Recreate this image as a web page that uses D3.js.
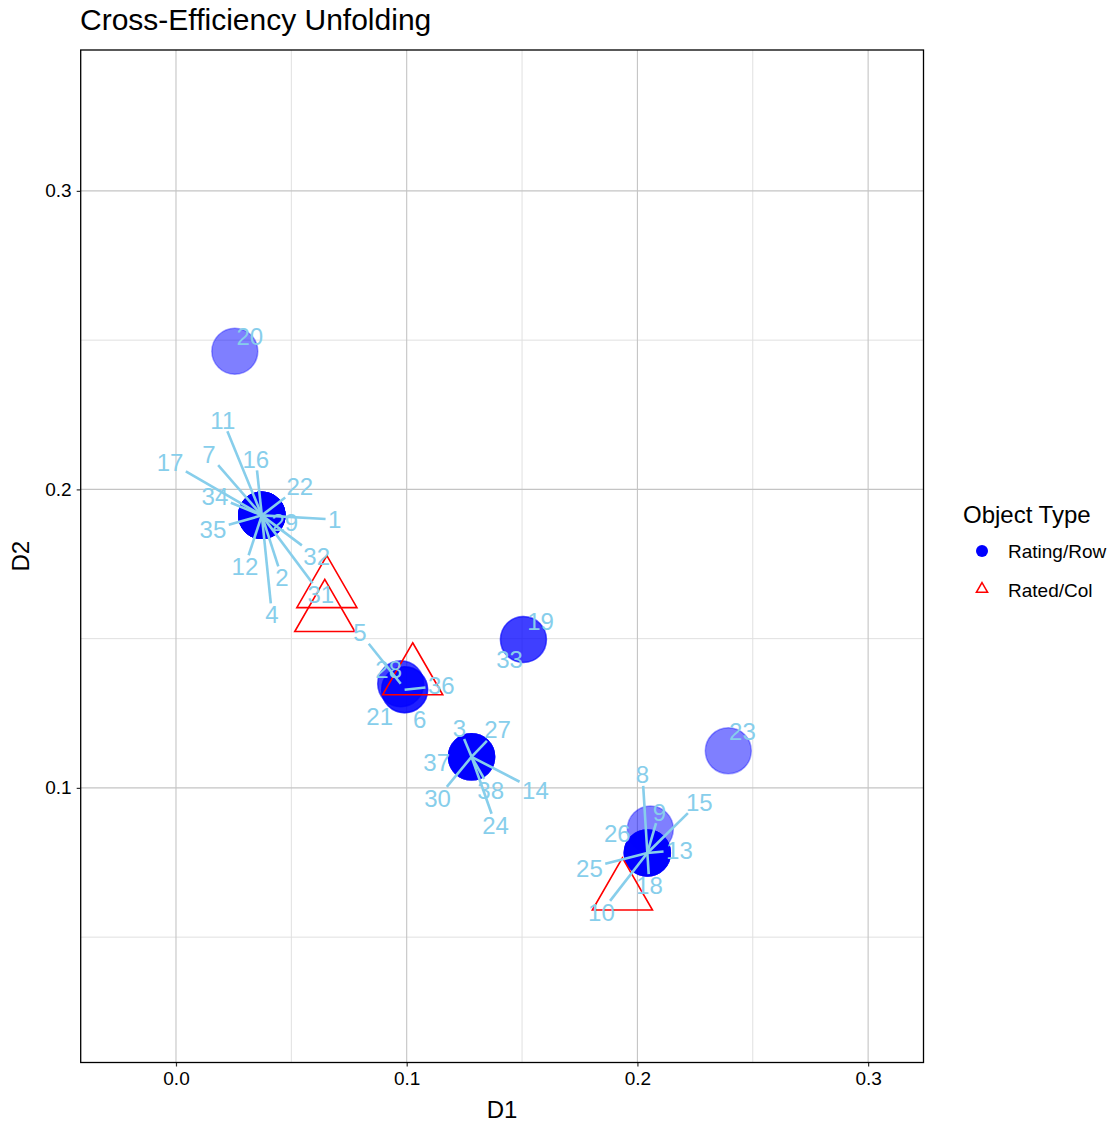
<!DOCTYPE html>
<html><head><meta charset="utf-8">
<script src="https://cdn.jsdelivr.net/npm/d3@7"></script>
<style>
body{margin:0;background:#fff}
text{font-family:"Liberation Sans",Arial,Helvetica,sans-serif}
</style>
</head><body>
<svg id="chart" width="1115" height="1126"></svg>
<script>
// ---------------- data ----------------
const dmuLabels = ["1","2","3","4","5","6","7","8","9","10","11","12","13","14","15","16","17","18","19","20",
  "21","22","23","24","25","26","27","28","29","30","31","32","33","34","35","36","37","38"];
// Rating/Row positions (D1, D2)
const dmuD1 = [0.0372,0.0372,0.1281,0.0372,0.0974,0.0991,0.0372,0.2043,0.2043,0.2043,
  0.0372,0.0372,0.2043,0.1281,0.2043,0.0372,0.0372,0.2043,0.1506,0.0255,
  0.0991,0.0372,0.2394,0.1281,0.2043,0.2056,0.1281,0.0974,0.0372,0.1281,
  0.0372,0.0372,0.1506,0.0372,0.0372,0.0991,0.1281,0.1281];
const dmuD2 = [0.1913,0.1913,0.1104,0.1913,0.1349,0.1329,0.1913,0.0782,0.0782,0.0782,
  0.1913,0.1913,0.0782,0.1104,0.0782,0.1913,0.1913,0.0782,0.1497,0.2463,
  0.1329,0.1913,0.1124,0.1104,0.0782,0.0862,0.1104,0.1349,0.1913,0.1104,
  0.1913,0.1913,0.1497,0.1913,0.1913,0.1329,0.1104,0.1104];
// repelled label positions (D1, D2)
const labelD1 = [0.0688,0.0459,0.1229,0.0416,0.0797,0.1056,0.0143,0.2022,0.2095,0.1844,
  0.0203,0.0299,0.2182,0.1558,0.2268,0.0346,-0.0026,0.2052,0.1580,0.0320,
  0.0883,0.0537,0.2455,0.1385,0.1792,0.1913,0.1394,0.0922,0.0472,0.1134,
  0.0628,0.0610,0.1446,0.0169,0.0160,0.1150,0.1130,0.1364];
const labelD2 = [0.1899,0.1705,0.1201,0.1581,0.1520,0.1228,0.2117,0.1044,0.0919,0.0584,
  0.2232,0.1742,0.0792,0.0993,0.0953,0.2101,0.2091,0.0674,0.1557,0.2513,
  0.1238,0.2010,0.1188,0.0876,0.0732,0.0849,0.1195,0.1396,0.1889,0.0966,
  0.1648,0.1775,0.1430,0.1977,0.1866,0.1342,0.1084,0.0993];
// whether the repelled label has a leader segment
const hasSegment = [1,1,1,1,1,0,1,1,1,1, 1,1,1,1,1,1,1,1,0,0,
  0,1,0,1,1,0,1,0,0,1, 1,1,0,1,1,1,0,1];
// Rated/Col positions
const ratedD1 = [0.0654,0.0645,0.1026,0.1935];
const ratedD2 = [0.1662,0.1582,0.1370,0.0649];

const xDomain = [-0.0413, 0.3240];
const yDomain = [0.0080, 0.3472];
const xTicks = [0.0, 0.1, 0.2, 0.3];
const yTicks = [0.1, 0.2, 0.3];
const xMinor = [0.05, 0.15, 0.25];
const yMinor = [0.05, 0.15, 0.25];
const legendItems = ["Rating/Row", "Rated/Col"];

// ---------------- layout ----------------
const svg = d3.select("#chart");
const L = 80.7, R = 923.5, T = 50, B = 1062.5;
const x = d3.scaleLinear().domain(xDomain).range([L, R]);
const y = d3.scaleLinear().domain(yDomain).range([B, T]);
const circleR = 23;
const labelFs = 24;
const skyblue = "#87CEEB";

// grid
const g = svg.append("g");
g.selectAll(".gxm").data(xMinor).enter().append("line")
  .attr("x1", d => x(d)).attr("x2", d => x(d)).attr("y1", T).attr("y2", B)
  .attr("stroke", "#e0e0e0").attr("stroke-width", 1);
g.selectAll(".gym").data(yMinor).enter().append("line")
  .attr("y1", d => y(d)).attr("y2", d => y(d)).attr("x1", L).attr("x2", R)
  .attr("stroke", "#e0e0e0").attr("stroke-width", 1);
g.selectAll(".gx").data(xTicks).enter().append("line")
  .attr("x1", d => x(d)).attr("x2", d => x(d)).attr("y1", T).attr("y2", B)
  .attr("stroke", "#c4c4c4").attr("stroke-width", 1.1);
g.selectAll(".gy").data(yTicks).enter().append("line")
  .attr("y1", d => y(d)).attr("y2", d => y(d)).attr("x1", L).attr("x2", R)
  .attr("stroke", "#c4c4c4").attr("stroke-width", 1.1);

// axes
const xAxis = d3.axisBottom(x).tickValues(xTicks).tickFormat(d3.format(".1f")).tickSize(4).tickPadding(5);
const yAxis = d3.axisLeft(y).tickValues(yTicks).tickFormat(d3.format(".1f")).tickSize(4).tickPadding(5);
const gx = svg.append("g").attr("transform", `translate(0,${B})`).call(xAxis);
const gy = svg.append("g").attr("transform", `translate(${L},0)`).call(yAxis);
[gx, gy].forEach(a => {
  a.select(".domain").remove();
  a.selectAll(".tick line").attr("stroke", "#333").attr("stroke-width", 1.2);
  a.selectAll(".tick text").attr("fill", "#000").style("font-size", "19px")
    .style("font-family", '"Liberation Sans",Arial,sans-serif');
});

// points (Rating/Row)
const idx = d3.range(dmuLabels.length);
svg.append("g").selectAll("circle").data(idx).enter().append("circle")
  .attr("cx", i => x(dmuD1[i])).attr("cy", i => y(dmuD2[i])).attr("r", circleR)
  .attr("fill", "blue").attr("fill-opacity", 0.5)
  .attr("stroke", "blue").attr("stroke-opacity", 0.35).attr("stroke-width", 1.5);

// triangles (Rated/Col)
const triR = 34.7;
function triPath(cx, cy, r) {
  const xc = r * 1.3468 / 1.5551, yc = r / 2;
  return `M${cx},${cy - r}L${cx + xc},${cy + yc}L${cx - xc},${cy + yc}Z`;
}
svg.append("g").selectAll("path").data(d3.range(ratedD1.length)).enter().append("path")
  .attr("d", i => triPath(x(ratedD1[i]), y(ratedD2[i]), triR))
  .attr("fill", "none").attr("stroke", "red").attr("stroke-width", 1.6);

// labels + segments
const segG = svg.append("g");
const labG = svg.append("g");
const texts = labG.selectAll("text").data(idx).enter().append("text")
  .attr("x", i => x(labelD1[i])).attr("y", i => y(labelD2[i]) + 0.36 * labelFs)
  .attr("text-anchor", "middle").attr("fill", skyblue)
  .style("font-size", labelFs + "px").text(i => dmuLabels[i]);
const pad = 2.5;
texts.each(function(i) {
  if (!hasSegment[i]) return;
  const w = this.getComputedTextLength();
  const hw = w / 2 + pad, hh = 0.72 * labelFs / 2 + pad;
  const lx = x(labelD1[i]), ly = y(labelD2[i]);
  const px = x(dmuD1[i]), py = y(dmuD2[i]);
  const dx = px - lx, dy = py - ly;
  const t = Math.min(dx === 0 ? Infinity : hw / Math.abs(dx), dy === 0 ? Infinity : hh / Math.abs(dy));
  if (t >= 1) return;
  const ex = lx + dx * t, ey = ly + dy * t;
  segG.append("line").attr("x1", px).attr("y1", py).attr("x2", ex).attr("y2", ey)
    .attr("stroke", skyblue).attr("stroke-width", 2.6);
});

// panel border
svg.append("rect").attr("x", L).attr("y", T).attr("width", R - L).attr("height", B - T)
  .attr("fill", "none").attr("stroke", "#000").attr("stroke-width", 1.3);

// titles
svg.append("text").attr("x", 80).attr("y", 30).style("font-size", "30px").attr("fill", "#000")
  .text("Cross-Efficiency Unfolding");
svg.append("text").attr("x", (L + R) / 2).attr("y", 1118).attr("text-anchor", "middle")
  .style("font-size", "24px").text("D1");
svg.append("text").attr("transform", `translate(29,${(T + B) / 2}) rotate(-90)`)
  .attr("text-anchor", "middle").style("font-size", "24px").text("D2");

// legend
const lg = svg.append("g");
lg.append("text").attr("x", 963).attr("y", 523).style("font-size", "24px").text("Object Type");
lg.append("circle").attr("cx", 982).attr("cy", 551).attr("r", 6).attr("fill", "blue");
lg.append("path").attr("d", triPath(982, 589, 6.5)).attr("fill", "none").attr("stroke", "red").attr("stroke-width", 1.5);
lg.selectAll(".lt").data(legendItems).enter().append("text")
  .attr("x", 1008).attr("y", (d, i) => 551 + i * 39 + 7).style("font-size", "19px").text(d => d);
</script>
</body></html>
